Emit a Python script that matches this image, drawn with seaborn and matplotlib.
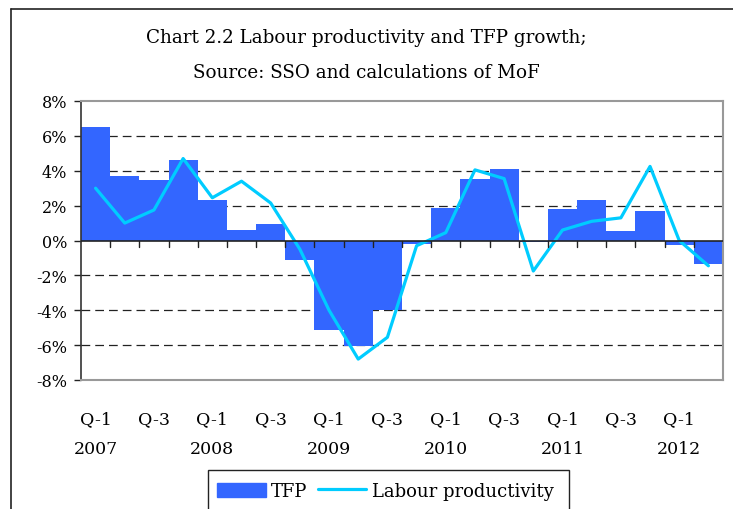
import numpy as np
import pandas as pd
import matplotlib
matplotlib.use("Agg")
import matplotlib.pyplot as plt
import seaborn as sns
from matplotlib.lines import Line2D
from matplotlib.patches import Patch, Rectangle
import matplotlib.transforms as mtransforms

quarters = [f"{y} Q{q}" for y in range(2007, 2013) for q in range(1, 5)][:22]
tfp = [6.5, 3.7, 3.45, 4.6, 2.35, 0.6, 0.95, -1.1, -5.15, -6.05, -4.0,
       -0.2, 1.85, 3.55, 4.1, -0.1, 1.8, 2.3, 0.55, 1.7, -0.25, -1.35]
labour = [3.0, 1.0, 1.75, 4.7, 2.45, 3.4, 2.15, -0.5, -4.0, -6.8, -5.55,
          -0.3, 0.45, 4.05, 3.55, -1.75, 0.6, 1.1, 1.3, 4.25, 0.0, -1.45]
tick_quarters = ["Q-1", "Q-3"] * 5 + ["Q-1"]
tick_years = ["2007", "", "2008", "", "2009", "", "2010", "", "2011", "", "2012"]
yticks = [-8, -6, -4, -2, 0, 2, 4, 6, 8]

df = pd.DataFrame({"quarter": quarters, "TFP": tfp, "Labour productivity": labour})

sns.set_style("white")
plt.rcParams["font.family"] = ["DejaVu Serif"]
plt.rcParams["text.color"] = "black"
plt.rcParams["ytick.color"] = "black"

fig = plt.figure(figsize=(7.33, 5.10), dpi=100)
ax = fig.add_axes([81 / 733, 1 - 381 / 510, 642 / 733, 279 / 510])

bar_col = "#3366FF"
line_col = "#00CCFF"

sns.barplot(data=df, x="quarter", y="TFP", color=bar_col, saturation=1,
            width=1.0, linewidth=0, edgecolor=bar_col, ax=ax, zorder=2)
sns.lineplot(x=np.arange(len(df)), y=df["Labour productivity"], color=line_col,
             linewidth=2.3, ax=ax, zorder=3)

ax.set_xlim(-0.5, len(df) - 0.5)
ax.set_ylim(-8, 8)
ax.set_xlabel("")
ax.set_ylabel("")

# dashed grid
for v in yticks:
    if v in (-8, 0, 8):
        continue
    ax.axhline(v, color="#222222", lw=0.9, ls=(0, (7, 4)), zorder=1)
ax.axhline(0, color="#222222", lw=1.2, zorder=4)

# y axis
ax.set_yticks(yticks)
ax.set_yticklabels([f"{v}%" for v in yticks], fontsize=11.5)
ax.tick_params(axis="y", direction="out", length=5, width=1, color="#222222",
               labelcolor="black", left=True, pad=5)

# tick marks on the zero line between quarters
ax.set_xticks([])
for b in np.arange(0.5, len(df) - 1, 1.0):
    ax.plot([b, b], [0, -0.38], color="#222222", lw=1, zorder=4)

# labels every second quarter
tr = mtransforms.blended_transform_factory(ax.transData, fig.transFigure)
for i, (q, y) in enumerate(zip(tick_quarters, tick_years)):
    ax.text(2 * i, 1 - 420 / 510, q, transform=tr, ha="center", va="center",
            fontsize=12.5, color="black")
    if y:
        ax.text(2 * i, 1 - 450 / 510, y, transform=tr, ha="center",
                va="center", fontsize=12.5, color="black")

for s in ["top", "right", "bottom"]:
    ax.spines[s].set_color("#999999")
    ax.spines[s].set_linewidth(1.5)
ax.spines["left"].set_color("#333333")
ax.spines["left"].set_linewidth(1.2)

fig.text(0.5, 1 - 38 / 510, "Chart 2.2 Labour productivity and TFP growth;",
         ha="center", va="center", fontsize=13.2, color="black")
fig.text(0.5, 1 - 73 / 510, "Source: SSO and calculations of MoF",
         ha="center", va="center", fontsize=13.2, color="black")

# outer frame, top and left edges
fig.add_artist(Line2D([11 / 733, 11 / 733], [0, 1 - 10 / 510],
                      transform=fig.transFigure, color="#222222", lw=1.2))
fig.add_artist(Line2D([11 / 733, 1], [1 - 10 / 510, 1 - 10 / 510],
                      transform=fig.transFigure, color="#222222", lw=1.2))

handles = [Patch(facecolor=bar_col, edgecolor=bar_col, label="TFP"),
           Line2D([], [], color=line_col, lw=2.3, label="Labour productivity")]
leg = fig.legend(handles=handles, loc="center left",
                 bbox_to_anchor=(208 / 733, 1 - 492 / 510), ncol=2,
                 fontsize=13, frameon=False, borderpad=0.5, handlelength=2.7,
                 handleheight=0.8, handletextpad=0.3, columnspacing=0.55,
                 borderaxespad=0)
# legend box runs off the bottom of the image, as in the source
fig.add_artist(Rectangle((208 / 733, -0.05), (569 - 208) / 733,
                         1 - 471 / 510 + 0.05, transform=fig.transFigure,
                         fill=False, edgecolor="#222222", lw=1.0))

fig.savefig("out.png", dpi=100)
